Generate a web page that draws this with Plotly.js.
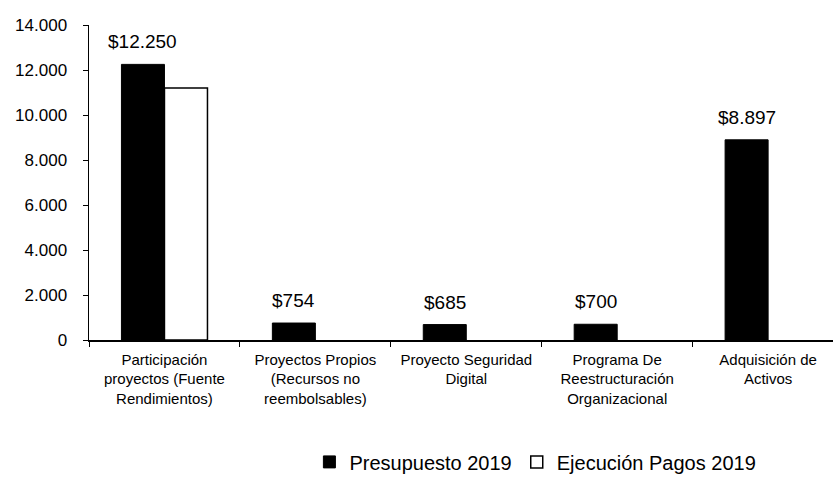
<!DOCTYPE html>
<html>
<head>
<meta charset="utf-8">
<script src="https://cdn.plot.ly/plotly-3.0.1.min.js"></script>
<style>html,body{margin:0;padding:0;background:#fff;}#chart{width:833px;height:492px;}</style>
</head>
<body>
<div id="chart"></div>
<script>
const categories = [
  "Participación<br>proyectos (Fuente<br>Rendimientos)",
  "Proyectos Propios<br>(Recursos no<br>reembolsables)",
  "Proyecto Seguridad<br>Digital",
  "Programa De<br>Reestructuración<br>Organizacional",
  "Adquisición de<br>Activos"
];
const presupuesto = [12250, 754, 685, 700, 8897];
const ejecucion = [11200, 0, 0, 0, 0];
const seriesNames = ["Presupuesto 2019", "Ejecución Pagos 2019"];
const yTicks = [0, 2000, 4000, 6000, 8000, 10000, 12000, 14000];

const FONT = "'Liberation Sans', Arial, sans-serif";

const traces = [
  {type: "bar", name: seriesNames[0], x: categories, y: presupuesto,
   marker: {color: "#000", line: {color: "#000", width: 1}}, hoverinfo: "none"},
  {type: "bar", name: seriesNames[1], x: categories, y: ejecucion,
   marker: {color: "#fff", line: {color: "#000", width: ejecucion.map(v => v > 0 ? 1.5 : 0)}}, hoverinfo: "none"}
];

const annotations = categories.map((c, i) => ({
  x: c, y: presupuesto[i], xref: "x", yref: "y",
  text: "$" + presupuesto[i].toLocaleString("de-DE"),
  showarrow: false, yanchor: "bottom", yshift: 10, xshift: -21.5,
  font: {family: FONT, size: 19, color: "#000"}
}));

const layout = {
  width: 833, height: 492,
  margin: {l: 89, r: 0, t: 25, b: 152},
  paper_bgcolor: "#fff", plot_bgcolor: "#fff",
  separators: ",.",
  barmode: "group", bargap: 0.43, bargroupgap: 0,
  font: {family: FONT, color: "#000"},
  showlegend: true,
  legend: {orientation: "h", x: 0.6, xanchor: "center", y: -0.387, yanchor: "middle",
           font: {family: FONT, size: 20, color: "#000"}, itemwidth: 30, traceorder: "normal"},
  xaxis: {type: "category", range: [-0.5, 4.43], showline: true, linecolor: "#000", linewidth: 1.5,
          ticks: "outside", tickson: "boundaries", ticklen: 5, tickcolor: "#000", ticklabelstandoff: 5,
          tickfont: {family: FONT, size: 15, color: "#000"}, showgrid: false, zeroline: false, fixedrange: true},
  yaxis: {range: [0, 14000], tickvals: yTicks, tickformat: ",.0f", showline: true, linecolor: "#000", linewidth: 1.5,
          ticks: "outside", ticklen: 5, tickcolor: "#000", ticklabelstandoff: 12,
          tickfont: {family: FONT, size: 17, color: "#000"}, showgrid: false, zeroline: false, fixedrange: true},
  annotations: annotations
};

Plotly.newPlot("chart", traces, layout, {displayModeBar: false, staticPlot: true});
</script>
</body>
</html>
